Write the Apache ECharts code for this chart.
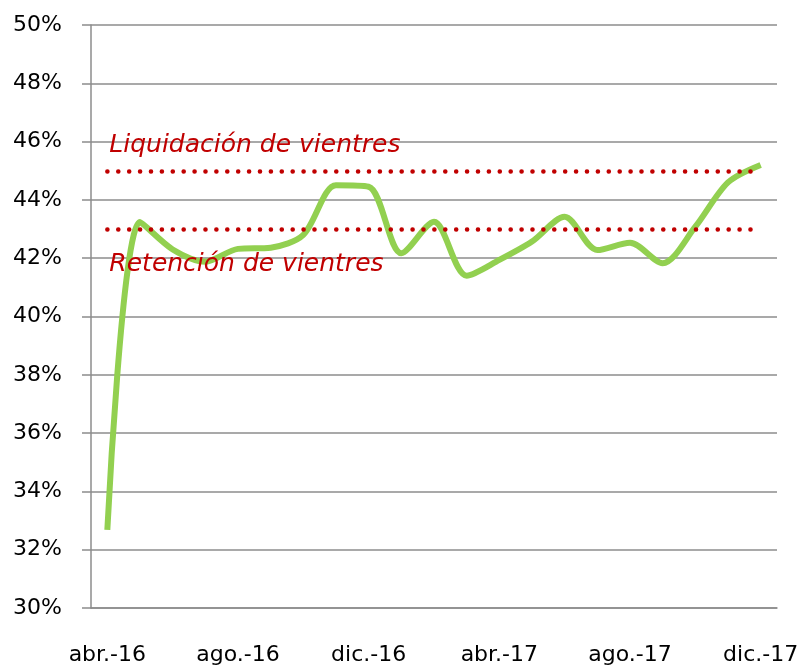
<!DOCTYPE html>
<html>
<head>
<meta charset="utf-8">
<script src="https://cdn.jsdelivr.net/npm/echarts@6/dist/echarts.min.js"></script>
<style>
  html, body { margin: 0; padding: 0; background: #fff; }
  #chart { width: 804px; height: 667px; }
</style>
</head>
<body>
<div id="chart"></div>
<script>
const months = ['abr.-16', 'may.-16', 'jun.-16', 'jul.-16', 'ago.-16', 'sep.-16', 'oct.-16', 'nov.-16',
    'dic.-16', 'ene.-17', 'feb.-17', 'mar.-17', 'abr.-17', 'may.-17', 'jun.-17', 'jul.-17',
    'ago.-17', 'sep.-17', 'oct.-17', 'nov.-17', 'dic.-17'];
const share = [32.68, 43.24, 42.3, 41.88, 42.32, 42.36, 42.8, 44.5, 44.45, 42.17, 43.25,
    41.4, 41.94, 42.57, 43.42, 42.28, 42.53, 41.83, 43.08, 44.6, 45.2];
const liquidacion = 45;
const retencion = 43;

const chart = echarts.init(document.getElementById('chart'));
const gray = '#8c8c8c';
const red = '#C00000';
const dotted = {color: red, width: 4.5, type: [0.1, 10.8], cap: 'round'};
const labelFont = {fontFamily: 'DejaVu Sans', fontStyle: 'italic', fontSize: 25, color: red};

chart.setOption({
    animation: false,
    grid: {left: 91, right: 27, top: 25, bottom: 59},
    xAxis: {
        type: 'category',
        data: months,
        boundaryGap: true,
        axisLine: {lineStyle: {color: gray, width: 1.5}},
        axisTick: {interval: 3, length: 8, lineStyle: {color: gray, width: 1.5}},
        axisLabel: {interval: 3, margin: 36, fontFamily: 'DejaVu Sans', fontSize: 22, color: '#000'}
    },
    yAxis: {
        type: 'value',
        min: 30,
        max: 50,
        interval: 2,
        axisLine: {show: true, lineStyle: {color: gray, width: 1.5}},
        axisTick: {show: true, length: 9, lineStyle: {color: gray, width: 1.5}},
        splitLine: {lineStyle: {color: gray, width: 1.5}},
        axisLabel: {formatter: '{value}%', margin: 29, fontFamily: 'DejaVu Sans', fontSize: 22, color: '#000'}
    },
    series: [{
        type: 'line',
        data: share,
        smooth: 0.3,
        showSymbol: false,
        lineStyle: {color: '#92D050', width: 6},
        markLine: {
            silent: true,
            symbol: 'none',
            lineStyle: dotted,
            data: [
                [{coord: [months[0], liquidacion],
                  label: Object.assign({show: true, position: 'insideStartTop', formatter: 'Liquidación de vientres', distance: [2, 13]}, labelFont)},
                 {coord: [months[months.length - 1], liquidacion]}],
                [{coord: [months[0], retencion],
                  label: Object.assign({show: true, position: 'insideStartBottom', formatter: 'Retención de vientres', distance: [2, 23]}, labelFont)},
                 {coord: [months[months.length - 1], retencion]}]
            ]
        }
    }]
});
</script>
</body>
</html>
